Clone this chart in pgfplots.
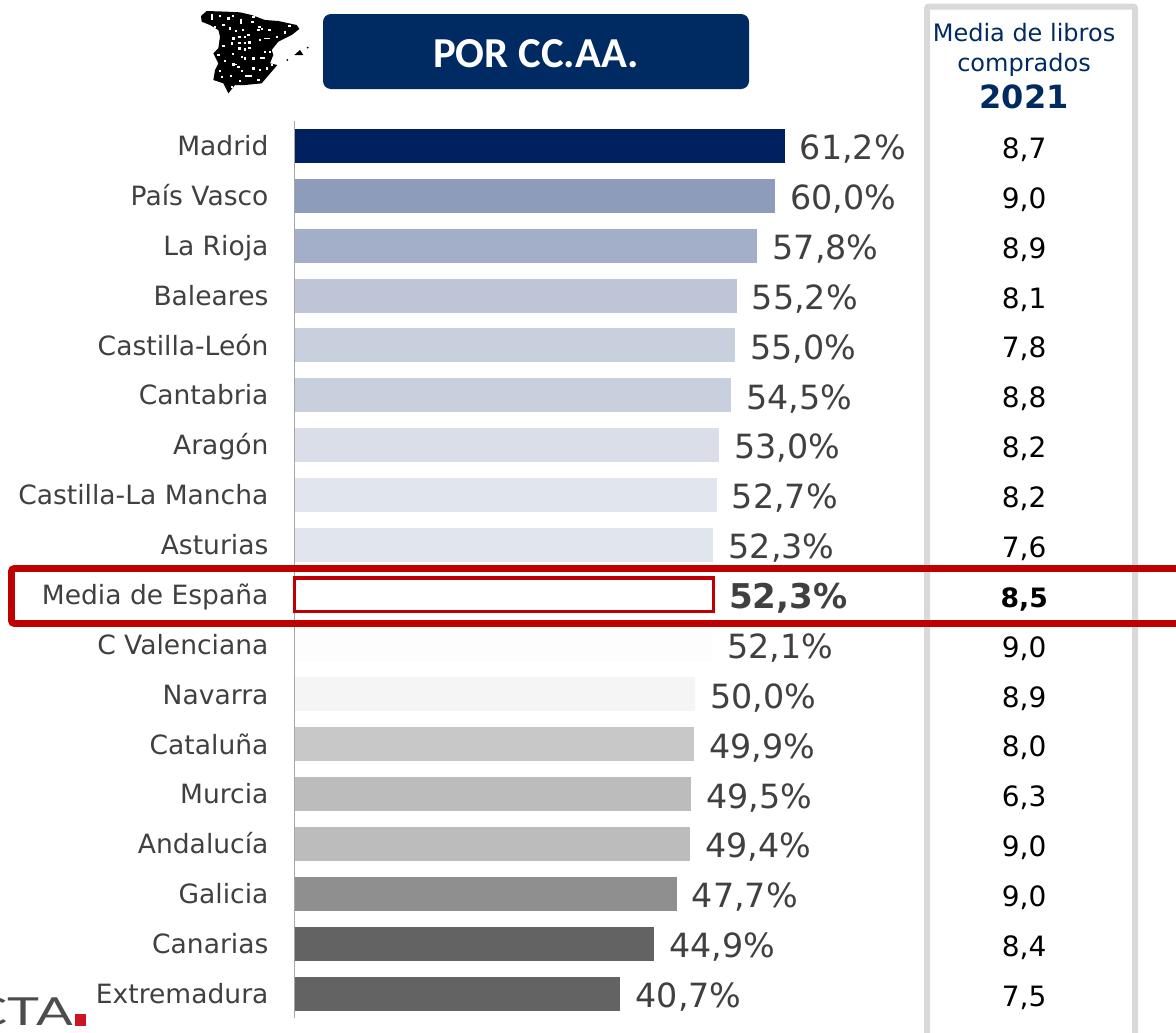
\documentclass[border=0pt]{standalone}
\usepackage{fontspec}
\setmainfont{DejaVu Sans}
\newfontfamily\calfont{Carlito}
\newfontfamily\logofont{Lato}
\usepackage{pgfplots}
\pgfplotsset{compat=1.18}
\definecolor{navy}{HTML}{002B62}
\definecolor{txt}{HTML}{404040}
\definecolor{redb}{HTML}{C00000}
\definecolor{redl}{HTML}{CC1520}
\definecolor{panel}{HTML}{D9D9D9}
\definecolor{b0}{HTML}{002060}
\definecolor{b1}{HTML}{8E9CBB}
\definecolor{b2}{HTML}{A3AFC8}
\definecolor{b3}{HTML}{BEC5D6}
\definecolor{b4}{HTML}{C8CFDD}
\definecolor{b6}{HTML}{DADEE9}
\definecolor{b7}{HTML}{E1E5EE}
\definecolor{b10}{HTML}{FDFDFD}
\definecolor{b11}{HTML}{F5F5F5}
\definecolor{b12}{HTML}{C8C8C8}
\definecolor{b13}{HTML}{BCBCBC}
\definecolor{b15}{HTML}{8F8F8F}
\definecolor{b16}{HTML}{636363}
\pgfplotsset{
  valbar/.style={xbar, bar shift=0pt, bar width=25.5pt, draw=none, fill=#1,
    point meta=explicit symbolic, nodes near coords,
    every node near coord/.style={anchor=west, inner sep=0pt, xshift=11.3pt, yshift=-1.3pt,
      text height=18.2pt, text depth=0pt, font=\fontsize{25pt}{28pt}\selectfont, text=txt}},
  valcol/.style={draw=none, mark=none, point meta=explicit symbolic, nodes near coords,
    every node near coord/.style={anchor=center, inner sep=0pt, yshift=-1.8pt,
      text height=15.3pt, text depth=0pt, font=\fontsize{21pt}{24pt}\selectfont, text=black}},
}
\begin{document}
\begin{tikzpicture}
\path[use as bounding box] (0,0) rectangle (882pt,-774pt);
\clip (0,0) rectangle (882pt,-774pt);
\begin{scope}[x=0.75pt,y=-0.75pt]
  % panel
  \draw[panel, line width=4.5pt, rounded corners=1.5pt] (927,1060) -- (927,6.5) -- (1135,6.5) -- (1135,1060);
  \node[text=navy, font=\fontsize{18pt}{22pt}\selectfont, align=center, inner sep=0pt, anchor=center] at (1024,50) {Media de libros\\comprados};
  \node[text=navy, font=\fontsize{24pt}{26pt}\selectfont\bfseries, inner sep=0pt] at (1024,96.5) {2021};
  % title
  \fill[navy, rounded corners=6pt] (323,14) rectangle (749,89);
  \node[text=white, font=\fontsize{32pt}{36pt}\selectfont\calfont\bfseries, inner sep=0pt] at (536,54) {POR CC.AA.};
  % logo
  \node[anchor=base east, inner sep=0pt, xscale=1.4, text=black!70, font=\fontsize{29pt}{32pt}\selectfont\logofont] at (73,1025) {CONECTA};
  \fill[redl] (75,1014) rectangle (86,1026);
\end{scope}
% map
\begin{scope}[shift={(142.5pt,-3.75pt)},x=.25pt,y=-.25pt]
  \fill[black] (33,33) -- (50,18) -- (110,20) -- (150,22) -- (185,30) -- (225,45) -- (265,48) -- (320,60)
     -- (328,72) -- (305,90) -- (265,110) -- (245,135) -- (250,150) -- (240,175) -- (262,180) -- (245,200)
     -- (215,235) -- (165,240) -- (135,240) -- (115,265) -- (100,235) -- (70,225) -- (75,195) -- (85,175)
     -- (70,145) -- (85,130) -- (90,95) -- (85,75) -- (60,60) -- (35,50) -- cycle;
  \fill[black] (313,150) -- (330,135) -- (340,150) -- cycle;
  \fill[black] (353,128) circle (3); \fill[black] (292,165) circle (3);
  \foreach \a/\b in {90/32,115/40,128/32,187/50,190/35,208/65,205/75,215/72,238/75,120/70,138/78,158/75,175/90,
     130/100,148/95,165/95,125/115,148/113,165/113,178/112,260/95,285/82,298/62,210/105,100/122,148/130,
     165/133,178/128,128/147,155/155,165/160,190/160,240/140,225/140,85/150,105/168,130/178,145/185,
     190/190,245/180,230/190,90/197,155/198,210/195,95/215,122/213,150/228,205/225,125/245,75/65,100/60}
     \fill[white] (\a-3.5,\b-3.5) rectangle ++(7,7);
  \fill[white] (62,28) rectangle ++(6,16);
  \fill[white] (150,42) rectangle ++(6,16);
  \fill[white] (222,98) rectangle ++(18,5);
  \fill[white] (210,156) rectangle ++(14,5);
  \fill[white] (165,211) rectangle ++(22,6);
  \fill[white] (128,176) rectangle ++(12,5);
\end{scope}
\begin{axis}[
  at={(220.9pt,-90.75pt)}, anchor=north west,
  scale only axis, width=661.1pt, height=672.75pt,
  xmin=0, xmax=110.08, ymin=-0.5, ymax=17.49, y dir=reverse,
  axis x line=none, axis y line=left, y axis line style={-, draw=black!35, line width=.9pt},
  ytick={0,...,17}, major tick length=0pt,
  yticklabels={Madrid,País Vasco,La Rioja,Baleares,Castilla-León,Cantabria,Aragón,Castilla-La Mancha,Asturias,Media de España,C Valenciana,Navarra,Cataluña,Murcia,Andalucía,Galicia,Canarias,Extremadura},
  y tick label style={anchor=east, inner sep=0pt, xshift=-19.4pt, text height=14.6pt, text depth=0pt,
     font=\fontsize{19.9pt}{23pt}\selectfont, text=txt},
  clip=false,
]
\addplot[valbar=b0] coordinates {(61.2,0) [61,2\%]};
\addplot[valbar=b1] coordinates {(60.0,1) [60,0\%]};
\addplot[valbar=b2] coordinates {(57.8,2) [57,8\%]};
\addplot[valbar=b3] coordinates {(55.2,3) [55,2\%]};
\addplot[valbar=b4] coordinates {(55.0,4) [55,0\%]};
\addplot[valbar=b4] coordinates {(54.5,5) [54,5\%]};
\addplot[valbar=b6] coordinates {(53.0,6) [53,0\%]};
\addplot[valbar=b7] coordinates {(52.7,7) [52,7\%]};
\addplot[valbar=b7] coordinates {(52.3,8) [52,3\%]};
\addplot[valbar=white, draw=redb, line width=2.5pt, bar width=25.3pt,
   every node near coord/.append style={font=\fontsize{25.6pt}{28pt}\selectfont\bfseries, xshift=-.8pt}] coordinates {(52.3,9) [52,3\%]};
\addplot[valbar=b10] coordinates {(52.1,10) [52,1\%]};
\addplot[valbar=b11] coordinates {(50.0,11) [50,0\%]};
\addplot[valbar=b12] coordinates {(49.9,12) [49,9\%]};
\addplot[valbar=b13] coordinates {(49.5,13) [49,5\%]};
\addplot[valbar=b13] coordinates {(49.4,14) [49,4\%]};
\addplot[valbar=b15] coordinates {(47.7,15) [47,7\%]};
\addplot[valbar=b16] coordinates {(44.9,16) [44,9\%]};
\addplot[valbar=b16] coordinates {(40.7,17) [40,7\%]};
\addplot[valcol] coordinates {(91.12,0) [8,7] (91.12,1) [9,0] (91.12,2) [8,9] (91.12,3) [8,1] (91.12,4) [7,8] (91.12,5) [8,8] (91.12,6) [8,2] (91.12,7) [8,2] (91.12,8) [7,6]};
\addplot[valcol, every node near coord/.append style={font=\fontsize{20pt}{24pt}\selectfont\bfseries}] coordinates {(91.12,9) [8,5]};
\addplot[valcol] coordinates {(91.12,10) [9,0] (91.12,11) [8,9] (91.12,12) [8,0] (91.12,13) [6,3] (91.12,14) [9,0] (91.12,15) [9,0] (91.12,16) [8,4] (91.12,17) [7,5]};
\end{axis}
\begin{scope}[x=0.75pt,y=-0.75pt]
  \draw[redb, line width=5pt, rounded corners=2pt] (1200,568.5) -- (11.5,568.5) -- (11.5,623.5) -- (1200,623.5);
\end{scope}
\end{tikzpicture}
\end{document}
